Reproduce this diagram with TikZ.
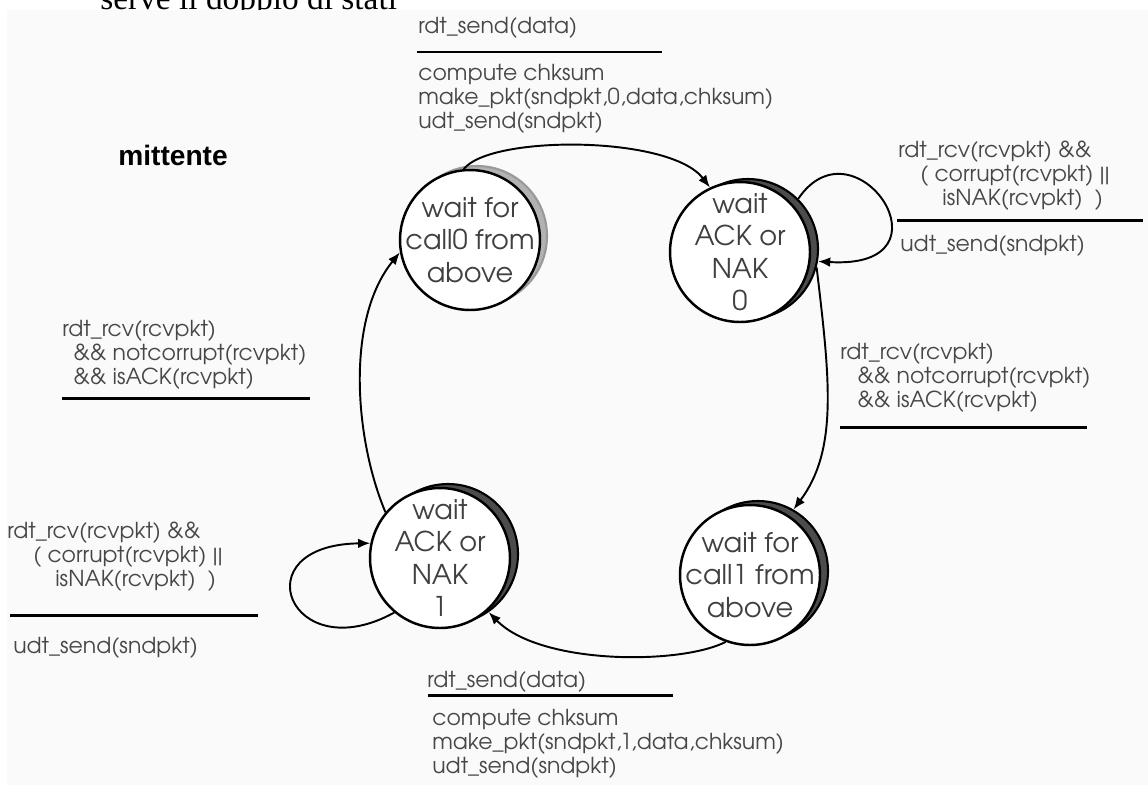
\documentclass[tikz,border=0pt]{standalone}
\usepackage{fontspec}
\setmainfont{Liberation Serif}
\newfontfamily\gothic{texgyreadventor-regular.otf}
\newfontfamily\arialfont{Liberation Sans}
\usetikzlibrary{arrows.meta,calc}

\begin{document}
\begin{tikzpicture}[x=0.02cm,y=-0.02cm,
  state/.style={circle, draw=black, line width=1.4pt, fill=white,
    minimum size=2.8cm, inner sep=0pt},
  statetext/.style={inner sep=0pt, align=center, text=black!75,
    font=\gothic\fontsize{15.5}{18.5}\selectfont},
  stateshadow/.style={circle, draw=black, line width=1.2pt, fill=black!70,
    minimum size=2.8cm, inner sep=0pt},
  guard/.style={inner sep=0pt, align=left, text=black!72,
    font=\gothic\fontsize{12.5}{13.5}\selectfont},
  bar/.style={line width=1.7pt},
  trans/.style={line width=1.1pt, -{Latex[length=7pt,width=5.5pt]}},
]
\useasboundingbox (0,0) rectangle (1148,785);
\clip (0,0) rectangle (1148,785);

% heading line of the page, partly hidden under the figure area
\node[anchor=base west, inner sep=0pt, font=\fontsize{19}{22}\selectfont] (head) at (100,9) {serve il doppio di stati};
\fill[black!2] (7,10) rectangle (1148,785);

\node[anchor=base west, inner sep=0pt, font=\arialfont\bfseries\fontsize{16}{19}\selectfont] (who) at (118,165) {mittente};

% state shadows
\node[stateshadow, fill=black!30, draw=black!40] (S0s) at (477,236) {};
\node[stateshadow] (S1s) at (748,249) {};
\node[stateshadow] (S2s) at (448,554) {};
\node[stateshadow] (S3s) at (758,571) {};

% states
\node[state, label={[statetext]center:{wait for\\call0 from\\above}}] (S0) at (470,240) {};
\node[state, label={[statetext]center:{wait\\ACK or\\NAK\\0}}] (S1) at (740,252) {};
\node[state, label={[statetext]center:{wait\\ACK or\\NAK\\1}}] (S2) at (440,558) {};
\node[state, label={[statetext]center:{wait for\\call1 from\\above}}] (S3) at (750,575) {};

% transitions
\draw[trans] (S0.95) .. controls (490,135) and (670,135) .. (S1.115);
\draw[trans] (S1s.45) .. controls (855,115) and (960,270) .. (S1s.-10);
\draw[trans] (S1s.-15) .. controls (830,380) and (838,450) .. (S3s.60);
\draw[trans] (S3.250) .. controls (680,665) and (540,665) .. (S2s.-55);
\draw[trans] (S2.140) .. controls (355,440) and (345,320) .. (S0.190);
\draw[trans] (S2.230) .. controls (290,670) and (240,545) .. (S2.168);

% S0 -> S1
\node[guard, anchor=base west] (e01) at (418,33) {rdt\_send(data)};
\draw[bar] (417,52) -- (662,52);
\node[guard, anchor=north west] (a01) at (418,64) {compute chksum\\make\_pkt(sndpkt,0,data,chksum)\\udt\_send(sndpkt)};

% S1 self loop
\node[guard, anchor=north west] (e11) at (898,141) {rdt\_rcv(rcvpkt) \&\&\\\hspace*{0.44cm}( corrupt(rcvpkt) ||\\\hspace*{0.88cm}isNAK(rcvpkt) \ )};
\draw[bar] (897,220) -- (1143,220);
\node[guard, anchor=north west] (a11) at (900,235) {udt\_send(sndpkt)};

% S1 -> S3
\node[guard, anchor=north west] (e13) at (840,343) {rdt\_rcv(rcvpkt)\\\hspace*{0.34cm}\&\& notcorrupt(rcvpkt)\\\hspace*{0.34cm}\&\& isACK(rcvpkt)};
\draw[bar] (840,427) -- (1087,427);

% S3 -> S2
\node[guard, anchor=base west] (e32) at (427,687) {rdt\_send(data)};
\draw[bar] (428,695) -- (673,695);
\node[guard, anchor=north west] (a32) at (432,709) {compute chksum\\make\_pkt(sndpkt,1,data,chksum)\\udt\_send(sndpkt)};

% S2 self loop
\node[guard, anchor=north west] (e22) at (7,522) {rdt\_rcv(rcvpkt) \&\&\\\hspace*{0.52cm}( corrupt(rcvpkt) ||\\\hspace*{0.96cm}isNAK(rcvpkt) \ )};
\draw[bar] (10,615) -- (258,615);
\node[guard, anchor=north west] (a22) at (13,637) {udt\_send(sndpkt)};

% S2 -> S0
\node[guard, anchor=north west] (e20) at (62,320) {rdt\_rcv(rcvpkt)\\\hspace*{0.22cm}\&\& notcorrupt(rcvpkt)\\\hspace*{0.22cm}\&\& isACK(rcvpkt)};
\draw[bar] (62,398) -- (310,398);
\end{tikzpicture}
\end{document}
